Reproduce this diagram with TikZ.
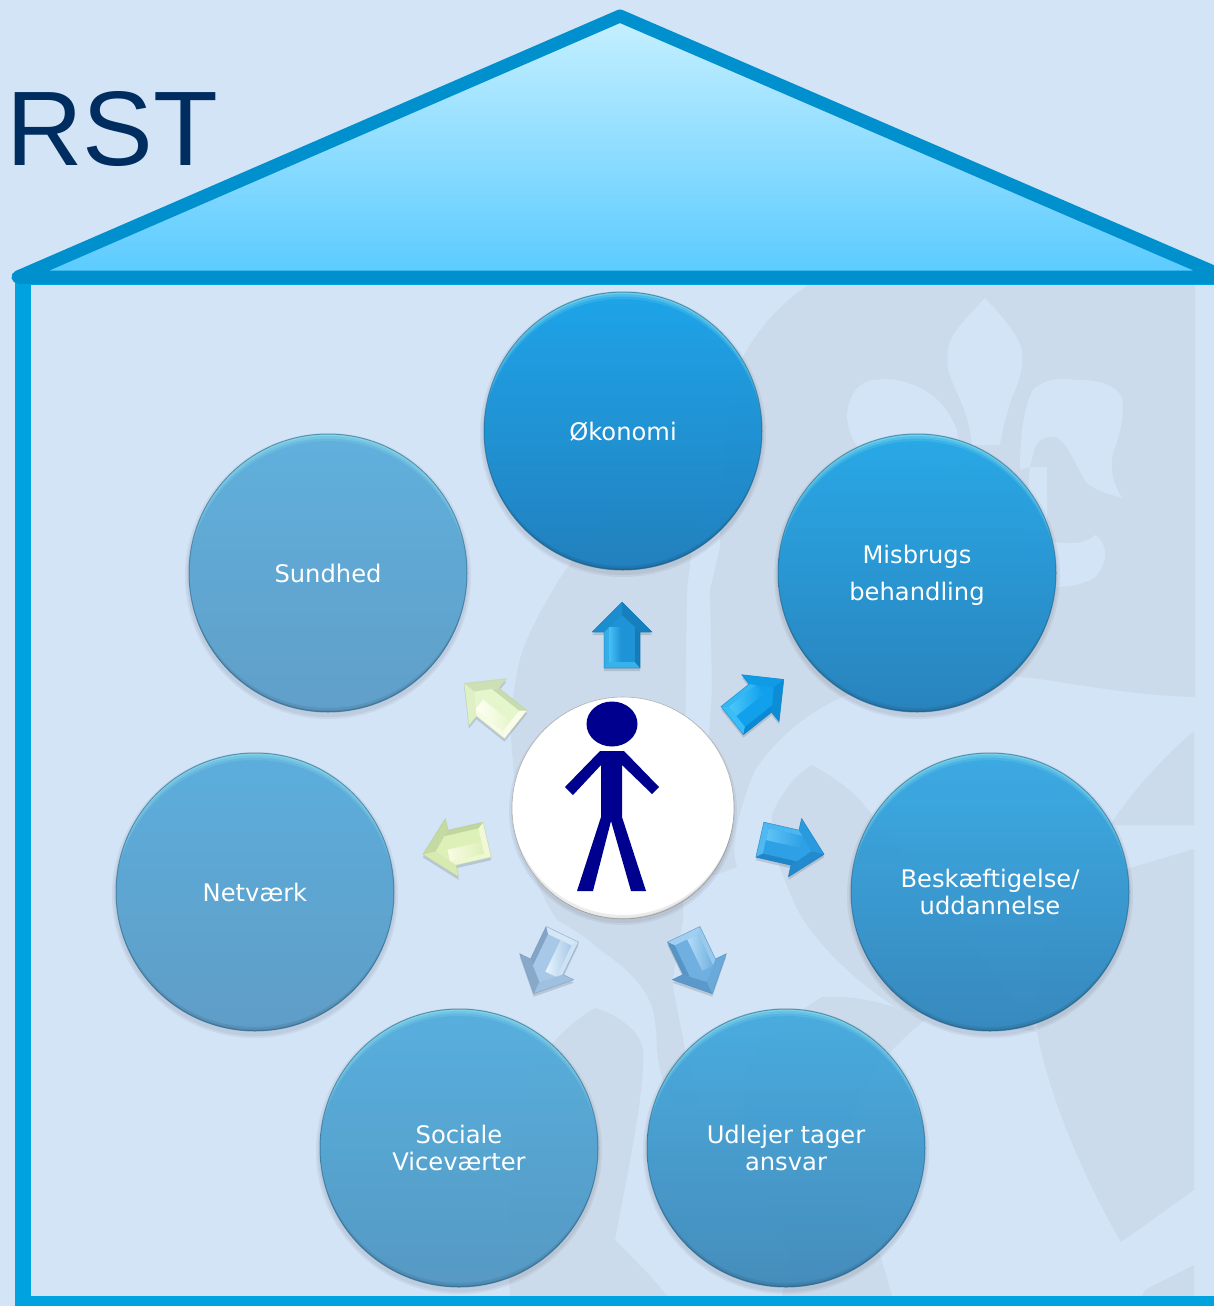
\documentclass[tikz,border=0pt]{standalone}
\usepackage{fontspec}
\setmainfont{DejaVu Sans}
\newfontfamily\titlefont{Liberation Sans}
\definecolor{bgc}{HTML}{D3E4F7}
\definecolor{wmc}{HTML}{CCDBEB}
\definecolor{roofline}{HTML}{0090CE}
\definecolor{wallline}{HTML}{00A3E0}
\definecolor{rooftop}{HTML}{C6F0FF}
\definecolor{roofbot}{HTML}{58CAFF}
\definecolor{titlec}{HTML}{002D60}
\definecolor{personc}{HTML}{00008F}
\definecolor{a1t}{HTML}{16A2EA}\definecolor{a1b}{HTML}{1A7DBC}
\definecolor{a2t}{HTML}{22A8E8}\definecolor{a2b}{HTML}{2280BC}
\definecolor{a3t}{HTML}{36A9E4}\definecolor{a3b}{HTML}{3186BC}
\definecolor{a4t}{HTML}{44ABE0}\definecolor{a4b}{HTML}{3F8ABA}
\definecolor{a5t}{HTML}{52AEDE}\definecolor{a5b}{HTML}{5197C3}
\definecolor{a6t}{HTML}{57ADDD}\definecolor{a6b}{HTML}{5A9BC6}
\definecolor{a7t}{HTML}{5CAFDD}\definecolor{a7b}{HTML}{5C9DC8}
\definecolor{rimc}{HTML}{A4F0F2}
\definecolor{edgec}{HTML}{1F5F86}
\tikzset{
  bubble/.style n args={2}{circle,minimum size=278pt,inner sep=0pt,
    top color=#1,bottom color=#2,fill opacity=.95,text opacity=1,
    text=white,align=center,font=\fontsize{24.2}{26.5}\selectfont},
  softshadow/.style={fill=black,fill opacity=.05,draw=none},
  watermark/.style={fill=wmc,draw=none},
  cutout/.style={fill=bgc,draw=none},
  rooflinestyle/.style={draw=roofline,line width=13pt,line join=round,line cap=round},
  wallstyle/.style={draw=wallline,line width=16pt},
}
\newcommand{\lowered}[2]{\raisebox{-#1}[\height][\depth]{#2}}
% bevelled rim of a circle node, drawn over its edge only
\newcommand{\bubblerim}[1]{%
  \begin{scope}[shift={(#1.center)}]
    \begin{scope}
      \clip (0,0) circle[radius=139pt];
      \fill[rimc,fill opacity=.14,even odd rule] (0,0) circle[radius=140pt] (0,8) circle[radius=140pt];
      \fill[rimc,fill opacity=.22,even odd rule] (0,0) circle[radius=140pt] (0,5.5) circle[radius=140pt];
      \fill[rimc,fill opacity=.34,even odd rule] (0,0) circle[radius=140pt] (0,3) circle[radius=140pt];
      \fill[black,fill opacity=.07,even odd rule] (0,0) circle[radius=140pt] (0,-5) circle[radius=140pt];
      \fill[black,fill opacity=.10,even odd rule] (0,0) circle[radius=140pt] (0,-2.5) circle[radius=140pt];
    \end{scope}
    \draw[edgec,draw opacity=.55,line width=1pt] (0,0) circle[radius=139pt];
  \end{scope}}
% centre x, centre y, clockwise angle, base, light, dark
\newcommand{\blockarrow}[6]{%
  \fill[black,fill opacity=.13] [shift={(#1,#2+3)},rotate=-#3]
     (0,-33)--(30,-3)--(18,-3)--(18,33)--(-18,33)--(-18,-3)--(-30,-3)--cycle;
  \begin{scope}[shift={(#1,#2)},rotate=-#3]
    \fill[#4] (0,-33)--(30,-3)--(18,-3)--(18,33)--(-18,33)--(-18,-3)--(-30,-3)--cycle;
    % shaft bevels
    \fill[#4!40!#5] (-18,-3)--(-18,33)--(-13,27)--(-13,-8)--cycle;
    \shade[left color=#5,right color=#4] (-13,-8)--(-13,27)--(-1,27)--(-1,-8)--cycle;
    \fill[#5!70!#4] (-18,33)--(18,33)--(13,27)--(-13,27)--cycle;
    \fill[#4!35!#6] (18,-3)--(18,33)--(13,27)--(13,-8)--cycle;
    % head bevels
    \fill[#4!85!#6] (0,-33)--(-30,-3)--(-18,-3)--(-13,-8)--(0,-20)--cycle;
    \fill[#4!45!#6] (0,-33)--(30,-3)--(18,-3)--(13,-8)--(0,-20)--cycle;
    \draw[#6,draw opacity=.45,line width=.7pt,line join=round] (0,-33)--(30,-3)--(18,-3)--(18,33)--(-18,33)--(-18,-3)--(-30,-3)--cycle;
  \end{scope}}
\begin{document}
\begin{tikzpicture}[x=1pt,y=-1pt]
\useasboundingbox (0,0) rectangle (1214,1306);
\fill[bgc] (0,0) rectangle (1214,1306);
% ---- watermark
\path[watermark] (810,284) -- (1195,284) -- (1195,697)
  .. controls (1120,695) and (1060,680) .. (1020,677)
  .. controls (900,665) and (810,690) .. (755,770)
  .. controls (738,810) and (730,850) .. (737,867)
  -- (700,880) -- (712,690) -- (710,590) -- (720,547)
  .. controls (722,470) and (725,410) .. (743,357)
  .. controls (760,325) and (785,300) .. (810,284) -- cycle;
\path[watermark] (610,510) .. controls (590,540) and (570,560) .. (553,590)
  .. controls (535,620) and (520,650) .. (517,673)
  .. controls (510,710) and (510,740) .. (513,760)
  .. controls (515,820) and (530,880) .. (557,920)
  .. controls (575,930) and (590,940) .. (600,950)
  .. controls (615,960) and (625,968) .. (633,977)
  .. controls (645,990) and (650,1000) .. (653,1010)
  .. controls (656,1025) and (657,1040) .. (657,1050)
  .. controls (660,1075) and (665,1095) .. (680,1110) -- (700,1100)
  -- (685,1050) .. controls (680,1020) and (672,990) .. (673,980)
  .. controls (675,960) and (680,940) .. (683,920)
  -- (687,590) .. controls (690,560) and (695,530) .. (700,510) -- cycle;
\path[watermark] (812,765) .. controls (830,775) and (845,785) .. (860,800)
  -- (940,900) -- (1037,1032) -- (900,1010)
  .. controls (860,985) and (815,945) .. (795,905)
  .. controls (780,870) and (770,845) .. (772,815)
  .. controls (780,795) and (795,775) .. (812,765) -- cycle;
\path[watermark] (1194,731) .. controls (1160,760) and (1130,795) .. (1110,825) -- (1194,825) -- cycle;
\path[watermark] (1130,868) -- (1194,849) -- (1194,1190) -- (1121,1242)
  .. controls (1085,1180) and (1050,1100) .. (1037,1032) -- (1040,960) .. controls (1060,900) and (1090,880) .. (1130,868) -- cycle;
\path[watermark] (1145,1290) -- (1194,1265) -- (1194,1296) -- (1142,1296) -- cycle;
\path[watermark] (822,997) .. controls (785,1020) and (750,1045) .. (745,1073)
  .. controls (740,1110) and (750,1170) .. (790,1257) -- (782,1296) -- (892,1296)
  .. controls (885,1270) and (880,1255) .. (875,1240)
  .. controls (855,1180) and (845,1130) .. (860,1095)
  .. controls (880,1060) and (900,1040) .. (925,1020)
  .. controls (895,1005) and (860,995) .. (822,997) -- cycle;
\path[watermark] (595,1008) .. controls (610,1012) and (622,1020) .. (633,1030)
  .. controls (638,1035) and (641,1042) .. (643,1050)
  .. controls (645,1090) and (630,1160) .. (615,1240)
  .. controls (635,1260) and (655,1280) .. (667,1296)
  -- (510,1296) -- (508,1257) -- (512,1123)
  .. controls (520,1080) and (550,1035) .. (595,1008) -- cycle;
% fleur-de-lis cut into the watermark
\path[cutout] (985,298) .. controls (965,320) and (948,335) .. (948,352)
  .. controls (945,370) and (952,380) .. (957,393)
  .. controls (965,410) and (970,425) .. (972,445) -- (1000,445)
  .. controls (1002,430) and (1008,410) .. (1012,397)
  .. controls (1020,380) and (1024,365) .. (1022,352)
  .. controls (1020,335) and (1000,315) .. (985,298) -- cycle;
\path[cutout] (1020,470) .. controls (1020,430) and (1025,405) .. (1033,390)
  .. controls (1045,378) and (1060,378) .. (1077,380)
  .. controls (1100,380) and (1115,385) .. (1122,397)
  .. controls (1125,420) and (1118,440) .. (1113,453)
  .. controls (1110,470) and (1112,480) .. (1122,498)
  .. controls (1105,493) and (1095,490) .. (1087,483)
  .. controls (1078,470) and (1075,460) .. (1070,453)
  .. controls (1062,438) and (1055,435) .. (1050,437)
  .. controls (1040,438) and (1034,445) .. (1033,455)
  -- (1030,467) -- cycle;
\path[cutout] (847,413) .. controls (850,392) and (860,382) .. (873,380)
  .. controls (890,378) and (900,380) .. (907,383)
  .. controls (925,388) and (945,400) .. (957,430)
  -- (962,470) -- (860,450) .. controls (852,440) and (847,428) .. (847,413) -- cycle;
\path[cutout] (1030,467) -- (1047,467) -- (1047,540)
  .. controls (1065,545) and (1085,545) .. (1095,535)
  .. controls (1103,540) and (1106,550) .. (1105,557)
  .. controls (1102,572) and (1095,580) .. (1085,582)
  .. controls (1075,586) and (1065,587) .. (1050,587) -- (1020,587) -- cycle;
% ---- house
\path[wallstyle] (23,277) -- (23,1306);
\draw[draw=wallline,line width=11pt] (15,1301) -- (1214,1301);
\draw[draw=wallline,line width=1pt] (18,284) -- (1214,284);
\path[rooflinestyle,top color=rooftop,bottom color=roofbot]
  (18,277) -- (620,16) -- (1232,280) -- (1232,277) -- cycle;
\path[draw=roofline,line width=13pt] (18,277) -- (1232,277);
% ---- title
\node[anchor=base west,inner sep=0pt,text=titlec,font=\titlefont\fontsize{106}{110}\selectfont] (title) at (6,165) {RST};
% ---- shadows
\foreach \cx/\cy in {623/431,917/573,990/892,786/1148,459/1148,255/892,328/573}{
  \fill[softshadow] (\cx,\cy+3) circle[radius=143pt];
  \fill[softshadow] (\cx,\cy+3) circle[radius=141pt];
}
\fill[softshadow] (623,811) circle[radius=114pt];
\fill[softshadow] (623,811) circle[radius=112pt];
% ---- circles
\node[bubble={a1t}{a1b}] (okonomi) at (623,431) {\lowered{1pt}{Økonomi}};
\node[bubble={a2t}{a2b}] (misbrug) at (917,573) {\lowered{2pt}{Misbrugs}\\[10.5pt]\lowered{2pt}{behandling}};
\node[bubble={a3t}{a3b}] (beskaeft) at (990,892) {Beskæftigelse/\\uddannelse};
\node[bubble={a4t}{a4b}] (udlejer) at (786,1148) {Udlejer tager\\ansvar};
\node[bubble={a5t}{a5b}] (sociale) at (459,1148) {Sociale\\Viceværter};
\node[bubble={a6t}{a6b}] (netvaerk) at (255,892) {Netværk};
\node[bubble={a7t}{a7b}] (sundhed) at (328,573) {Sundhed};
\foreach \n in {okonomi,misbrug,beskaeft,udlejer,sociale,netvaerk,sundhed}{\bubblerim{\n}}
% ---- centre
\node[circle,minimum size=222pt,inner sep=0pt,fill=white,draw=black!30,line width=.6pt] (centre) at (623,808) {};
\begin{scope}
  \clip (centre.center) circle[radius=111pt];
  \begin{scope}[shift={(centre.center)}]
    \fill[black,fill opacity=.08,even odd rule] (0,0) circle[radius=112pt] (0,-5) circle[radius=112pt];
    \fill[black,fill opacity=.14,even odd rule] (0,0) circle[radius=112pt] (-1,-2) circle[radius=112pt];
  \end{scope}
\end{scope}
\fill[personc] (612,724) ellipse[x radius=25.5pt,y radius=22.5pt];
\fill[personc] (600,751) -- (624,751) -- (659,787) -- (652,794) -- (622,765) -- (622,817)
  -- (646,891) -- (631,891) -- (611,821) -- (593,891) -- (577,891) -- (601,817)
  -- (601,765) -- (573,795) -- (565,787) -- cycle;
% ---- arrows
\definecolor{b1}{HTML}{1E93D6}\definecolor{b1l}{HTML}{45C0F4}\definecolor{b1d}{HTML}{0F6FA8}
\definecolor{b2}{HTML}{10A0EC}\definecolor{b2l}{HTML}{4CC8FA}\definecolor{b2d}{HTML}{0A7DC4}
\definecolor{b3}{HTML}{2DA0E6}\definecolor{b3l}{HTML}{60C4F6}\definecolor{b3d}{HTML}{1A78B8}
\definecolor{b4}{HTML}{70B0E0}\definecolor{b4l}{HTML}{B4DCF8}\definecolor{b4d}{HTML}{4A86B8}
\definecolor{b5}{HTML}{A8C8E8}\definecolor{b5l}{HTML}{E8F4FE}\definecolor{b5d}{HTML}{7090B4}
\definecolor{b6}{HTML}{DDF0B8}\definecolor{b6l}{HTML}{F8FCE4}\definecolor{b6d}{HTML}{B0C890}
\definecolor{b7}{HTML}{E6F6CC}\definecolor{b7l}{HTML}{FFFFF4}\definecolor{b7d}{HTML}{B8CCA0}
\blockarrow{622}{635}{0}{b1}{b1l}{b1d}
\blockarrow{758}{700}{51.43}{b2}{b2l}{b2d}
\blockarrow{792}{847}{102.86}{b3}{b3l}{b3d}
\blockarrow{698}{964}{154.3}{b4}{b4l}{b4d}
\blockarrow{548}{964}{205.7}{b5}{b5l}{b5d}
\blockarrow{455}{847}{257.1}{b6}{b6l}{b6d}
\blockarrow{490}{704}{308.6}{b7}{b7l}{b7d}
\end{tikzpicture}
\end{document}
